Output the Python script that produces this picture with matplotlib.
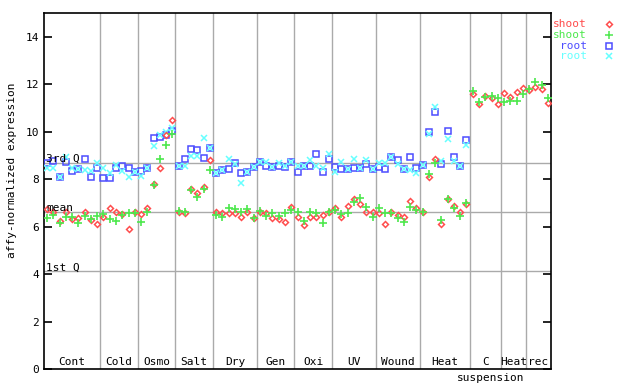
import numpy as np
import matplotlib
matplotlib.use('Agg')
import matplotlib.pyplot as plt

# group names and number of samples in each group
groups = ['Cont', 'Cold', 'Osmo', 'Salt', 'Dry', 'Gen', 'Oxi', 'UV', 'Wound', 'Heat', 'C', 'Heat', 'rec']
group_sizes = [9, 6, 6, 6, 7, 6, 6, 7, 7, 8, 5, 4, 4]

# shoot replicate 1 (red) and 2 (green)
shoot1 = [6.74, 6.60, 6.24, 6.60, 6.32, 6.38, 6.60, 6.28, 6.10,
          6.42, 6.80, 6.63, 6.53, 5.90, 6.63,
          6.53, 6.77, 7.80, 8.46, 9.86, 10.49,
          6.60, 6.56, 7.57, 7.43, 7.65, 8.79,
          6.60, 6.56, 6.56, 6.56, 6.39, 6.63, 6.35,
          6.63, 6.56, 6.35, 6.30, 6.19, 6.84,
          6.42, 6.07, 6.42, 6.42, 6.49, 6.60,
          6.77, 6.39, 6.88, 7.16, 6.94, 6.63, 6.60,
          6.59, 6.10, 6.60, 6.49, 6.39, 7.08, 6.77,
          6.60, 8.10, 8.83, 6.10, 7.15, 6.87, 6.63, 6.94,
          11.57, 11.17, 11.50, 11.41, 11.17,
          11.62, 11.46, 11.66, 11.83,
          11.76, 11.87, 11.79, 11.20]
shoot2 = [6.35, 6.50, 6.14, 6.39, 6.42, 6.15, 6.45, 6.32, 6.43,
          6.53, 6.32, 6.24, 6.48, 6.56, 6.59,
          6.21, 6.60, 7.75, 8.83, 9.44, 9.89,
          6.66, 6.60, 7.55, 7.26, 7.57, 8.37,
          6.49, 6.39, 6.77, 6.73, 6.60, 6.73, 6.35,
          6.66, 6.46, 6.56, 6.43, 6.56, 6.70,
          6.60, 6.24, 6.60, 6.56, 6.14, 6.60,
          6.70, 6.52, 6.56, 7.05, 7.19, 6.84, 6.39,
          6.77, 6.56, 6.56, 6.35, 6.21, 6.81, 6.70,
          6.60, 8.20, 8.67, 6.28, 7.15, 6.77, 6.45, 7.01,
          11.71, 11.24, 11.46, 11.50, 11.41,
          11.24, 11.28, 11.28, 11.59,
          11.79, 12.08, 11.97, 11.41]
# root replicate 1 (blue) and 2 (cyan); no root samples for suspension cells
root1 = [8.69, 8.78, 8.10, 8.72, 8.33, 8.41, 8.85, 8.09, 8.46,
         8.04, 8.04, 8.46, 8.54, 8.47, 8.28,
         8.33, 8.48, 9.72, 9.78, 9.86, 10.03,
         8.54, 8.83, 9.26, 9.22, 8.88, 9.33,
         8.26, 8.37, 8.41, 8.70, 8.24, 8.28, 8.50,
         8.71, 8.54, 8.50, 8.54, 8.50, 8.74,
         8.28, 8.54, 8.54, 9.05, 8.28, 8.83,
         8.50, 8.41, 8.41, 8.46, 8.48, 8.62, 8.44,
         8.50, 8.41, 8.95, 8.81, 8.41, 8.92, 8.46,
         8.60, 9.97, 10.84, 8.62, 10.03, 8.92, 8.55, 9.65]
root2 = [8.46, 8.46, 8.10, 8.95, 8.48, 8.41, 8.39, 8.36, 8.67,
         8.46, 8.24, 8.60, 8.34, 8.07, 8.30,
         8.12, 8.48, 9.38, 9.87, 9.97, 10.17,
         8.54, 8.54, 8.96, 8.96, 9.72, 9.33,
         8.26, 8.37, 8.83, 8.64, 7.82, 8.28, 8.50,
         8.74, 8.74, 8.50, 8.69, 8.54, 8.74,
         8.57, 8.54, 8.81, 8.54, 8.48, 9.06,
         8.32, 8.71, 8.41, 8.83, 8.48, 8.81, 8.44,
         8.67, 8.67, 8.95, 8.62, 8.41, 8.39, 8.27,
         8.60, 9.90, 11.05, 8.77, 9.68, 8.78, 8.55, 9.42]

# reference lines
q1_value = 4.13
mean_value = 6.62
q3_value = 8.69

RED = '#ff4d4d'
GREEN = '#4de84d'
BLUE = '#4d4dff'
CYAN = '#66ffff'
GRAY = '#aaaaaa'
FONT = 'DejaVu Sans Mono'
FS = 8

n = len(shoot1)
x_shoot = np.arange(n) + 0.5
x_root = np.arange(len(root1)) + 0.5

fig = plt.figure(figsize=(6.4, 3.84), dpi=100)
ax = fig.add_axes([44 / 640, 1 - 369 / 384, 507 / 640, 356 / 384])
ax.set_xlim(0, n)
ax.set_ylim(0, 15)

# quantile / mean lines
for v in [q1_value, mean_value, q3_value]:
    ax.axhline(v, color=GRAY, lw=1, zorder=1)
ax.text(0.3, q3_value + 0.03, '3rd Q', family=FONT, fontsize=FS, va='baseline', zorder=5)
ax.text(0.3, mean_value + 0.03, 'mean', family=FONT, fontsize=FS, va='baseline', zorder=5)
ax.text(0.3, q1_value + 0.03, '1st Q', family=FONT, fontsize=FS, va='baseline', zorder=5)

# group dividers and labels
bounds = np.cumsum([0] + group_sizes)
for b in bounds[1:-1]:
    ax.axvline(b, color=GRAY, lw=1, zorder=1)
for name, lo, hi in zip(groups, bounds[:-1], bounds[1:]):
    ax.text((lo + hi) / 2, 0.15, name, family=FONT, fontsize=FS, ha='center', va='baseline')
c_idx = groups.index('C')
ax.text((bounds[c_idx] + bounds[c_idx + 1]) / 2 + 0.8, -0.4, 'suspension', family=FONT,
        fontsize=FS, ha='center', va='center', clip_on=False)

ax.plot(x_root, root1, ls='none', marker='s', ms=4, mfc='none', mec=BLUE, mew=1.1, zorder=3)
ax.plot(x_root, root2, ls='none', marker='x', ms=4, color=CYAN, mew=1.1, zorder=3)
ax.plot(x_shoot, shoot1, ls='none', marker='D', ms=3, mfc='none', mec=RED, mew=1.1, zorder=4)
ax.plot(x_shoot, shoot2, ls='none', marker='+', ms=5.5, color=GREEN, mew=1.2, zorder=4)

ax.set_xticks([])
ax.set_yticks(range(0, 15, 2))
ax.tick_params(axis='y', direction='in', length=6, width=1.2, right=True, labelsize=FS)
for lab in ax.get_yticklabels():
    lab.set_family(FONT)
for sp in ax.spines.values():
    sp.set_linewidth(1.2)

fig.text(12 / 640, 1 - 170 / 384, 'affy-normalized expression', family=FONT, fontsize=FS,
         rotation=90, ha='center', va='center')

# legend outside the axes on the right
legend_rows = [('shoot', RED, 'D', 3), ('shoot', GREEN, '+', 5.5),
               ('root', BLUE, 's', 4), ('root', CYAN, 'x', 4)]
for k, (lab, col, mk, ms) in enumerate(legend_rows):
    yy = 1 - (24 + k * 10.8) / 384
    fig.text(587 / 640, yy, lab, family=FONT, fontsize=FS, color=col, ha='right', va='center')
    if mk in ('D', 's'):
        fig.lines.append(plt.Line2D([609 / 640], [yy], transform=fig.transFigure, ls='none',
                                    marker=mk, ms=ms, mfc='none', mec=col, mew=1.1))
    else:
        fig.lines.append(plt.Line2D([609 / 640], [yy], transform=fig.transFigure, ls='none',
                                    marker=mk, ms=ms, color=col, mew=1.1))

fig.savefig('out.png', dpi=100)
